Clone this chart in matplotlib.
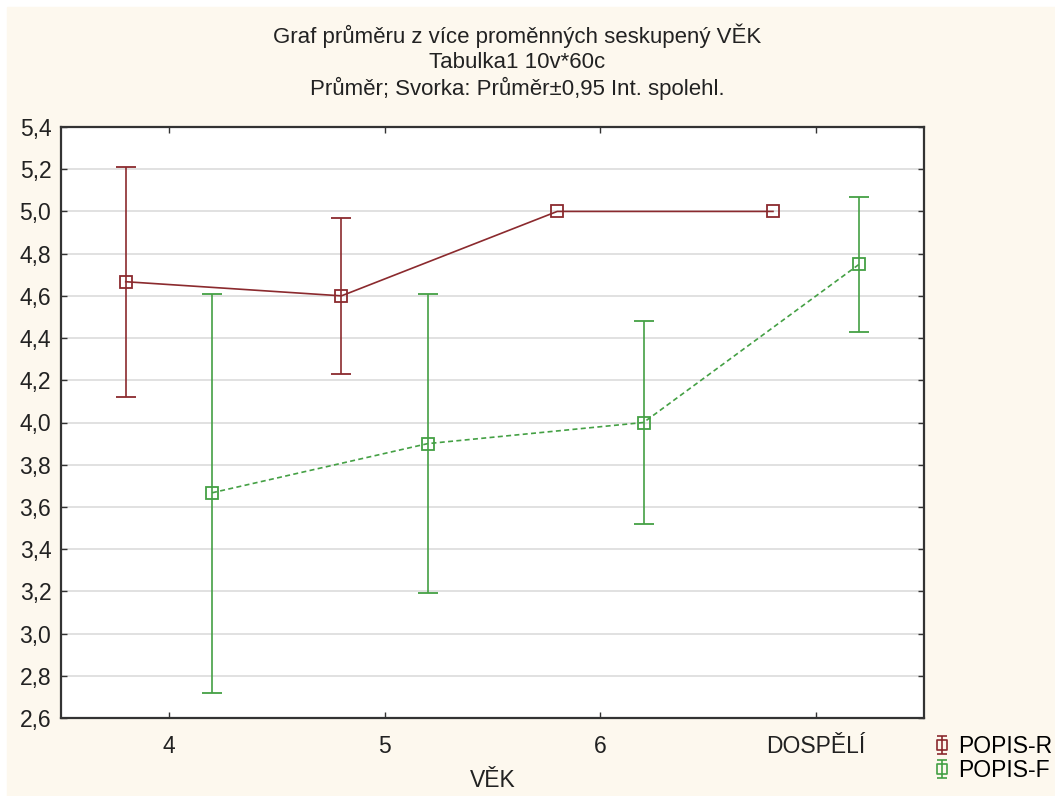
import matplotlib

matplotlib.use("Agg")
import matplotlib.pyplot as plt
from matplotlib.lines import Line2D
from matplotlib.path import Path
import numpy as np

# data
categories = ["4", "5", "6", "DOSPĚLÍ"]
r_mean = [4.667, 4.60, 5.00, 5.00]
r_low = [4.12, 4.23, 5.00, 5.00]
r_high = [5.21, 4.97, 5.00, 5.00]
f_mean = [3.667, 3.90, 4.00, 4.75]
f_low = [2.72, 3.19, 3.52, 4.43]
f_high = [4.61, 4.61, 4.48, 5.07]
y_ticks = [2.6, 2.8, 3.0, 3.2, 3.4, 3.6, 3.8, 4.0, 4.2, 4.4, 4.6, 4.8, 5.0, 5.2, 5.4]

RED = "#8b2a2e"
GREEN = "#44a044"
BG = "#fdf8ee"
TXT = "#222222"

plt.rcParams["font.family"] = ["Liberation Sans", "DejaVu Sans"]

fig = plt.figure(figsize=(10.55, 7.96), dpi=100, facecolor="white")
# cream panel with a thin white margin on top/left
fig.patches.append(plt.Rectangle((7 / 1055, 0), 1, 1 - 7 / 796,
                                 transform=fig.transFigure, color=BG, zorder=-10))
ax = fig.add_axes([61 / 1055, 1 - 718 / 796, (924 - 61) / 1055, (718 - 127) / 796])
ax.set_facecolor("white")

x = np.arange(1, len(categories) + 1)
xr = x - 0.2
xf = x + 0.2

rm = np.array(r_mean)
fm = np.array(f_mean)
r_err = np.array([rm - np.array(r_low), np.array(r_high) - rm])
f_err = np.array([fm - np.array(f_low), np.array(f_high) - fm])


def draw(xs, m, err, color, ls, label):
    # skip whiskers where the interval collapses to the mean
    mask = list(err.sum(axis=0) > 1e-9)
    ax.errorbar(xs, m, yerr=err, errorevery=mask, color=color, linewidth=1.2,
                linestyle=ls, marker="s", markersize=8.5, markerfacecolor="none",
                markeredgewidth=1.3, capsize=7, capthick=1.2, elinewidth=1.2,
                label=label, zorder=3)


draw(xr, rm, r_err, RED, "-", "POPIS-R")
draw(xf, fm, f_err, GREEN, (0, (3, 2)), "POPIS-F")

ax.set_xlim(0.5, 4.5)
ax.set_ylim(2.6, 5.4)
ax.set_xticks(x)
ax.set_xticklabels(categories)
ax.set_yticks(y_ticks)
ax.set_yticklabels([f"{v:.1f}".replace(".", ",") for v in y_ticks])
ax.grid(axis="y", color="#dcdcdc", linewidth=1.2, zorder=0)
ax.set_axisbelow(True)
ax.tick_params(direction="in", length=4, width=1, top=True, right=True,
               labelsize=16.5, colors="#333333", labelcolor=TXT, pad=7)
ax.tick_params(axis="x", pad=12)
for sp in ax.spines.values():
    sp.set_color("#333333")
    sp.set_linewidth(1.6)

ax.set_xlabel("VĚK", fontsize=16.5, color=TXT, labelpad=8)

titles = ["Graf průměru z více proměnných seskupený VĚK",
          "Tabulka1 10v*60c",
          "Průměr; Svorka: Průměr±0,95 Int. spolehl."]
for ypix, t in zip([36, 62, 88], titles):
    fig.text(517 / 1055, 1 - ypix / 796, t, ha="center", va="center",
             fontsize=16, color=TXT)

# legend icon: square marker on a capped vertical whisker
icon = Path([(-0.5, -0.5), (0.5, -0.5), (0.5, 0.5), (-0.5, 0.5), (-0.5, -0.5),
             (0, -1), (0, 1), (-0.5, 1), (0.5, 1), (-0.5, -1), (0.5, -1)],
            [Path.MOVETO, Path.LINETO, Path.LINETO, Path.LINETO, Path.CLOSEPOLY,
             Path.MOVETO, Path.LINETO, Path.MOVETO, Path.LINETO, Path.MOVETO, Path.LINETO])
handles = [Line2D([], [], linestyle="none", marker=icon, markersize=13,
                  markerfacecolor="none", markeredgewidth=1.2, color=c)
           for c in (RED, GREEN)]
fig.legend(handles, ["POPIS-R", "POPIS-F"], loc="lower left",
           bbox_to_anchor=(928 / 1055, 9 / 796), frameon=False,
           handlelength=0.8, handletextpad=0.3, labelspacing=0.05,
           borderaxespad=0.0, borderpad=0.2, prop={"size": 16.5})

fig.savefig("out.png", dpi=100, facecolor=fig.get_facecolor())
